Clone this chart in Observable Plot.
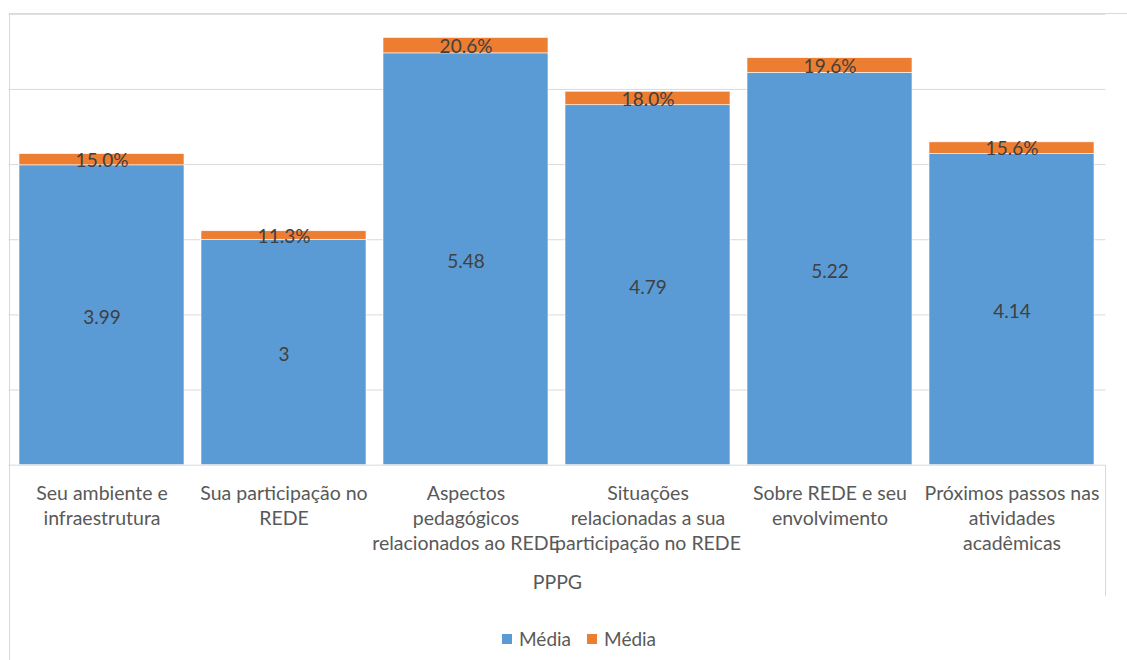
<!DOCTYPE html>
<html><head><meta charset="utf-8">
<script src="https://cdn.jsdelivr.net/npm/d3@7"></script>
<script src="https://cdn.jsdelivr.net/npm/@observablehq/plot@0.6"></script>
<style>
body{margin:0;background:#fff;font-family:Lato,"Open Sans",sans-serif;}
#wrap{position:relative;width:1127px;height:660px;overflow:hidden;}
.line{position:absolute;background:#D9D9D9;}
#legend{position:absolute;left:502px;top:627px;display:flex;align-items:center;font-size:19px;color:#595959;}
#legend span.sw{display:inline-block;width:10px;height:10px;margin-right:7px;}
#legend span.lab{margin-right:16px;}
</style></head>
<body><div id="wrap"><div id="chart"></div></div>
<script>
const categories = ["Seu ambiente e infraestrutura","Sua participação no REDE","Aspectos pedagógicos relacionados ao REDE","Situações relacionadas a sua participação no REDE","Sobre REDE e seu envolvimento","Próximos passos nas atividades acadêmicas"];
const categoryLabels = ["Seu ambiente e\ninfraestrutura","Sua participação no\nREDE","Aspectos\npedagógicos\nrelacionados ao REDE","Situações\nrelacionadas a sua\nparticipação no REDE","Sobre REDE e seu\nenvolvimento","Próximos passos nas\natividades\nacadêmicas"];
const mediaValues = [3.99, 3, 5.48, 4.79, 5.22, 4.14];
const pctValues = [0.150, 0.113, 0.206, 0.180, 0.196, 0.156];
const seriesNames = ["Média", "Média"];
const seriesColors = ["#5B9BD5", "#ED7D31"];
const groupLabel = "PPPG";
const gridTicks = [1, 2, 3, 4, 5, 6];

const rows = categories.map((c, i) => ({cat: c, media: mediaValues[i], pct: pctValues[i]}));
const labelOf = new Map(categories.map((c, i) => [c, categoryLabels[i]]));

const FS = 19;
const chart = Plot.plot({
  width: 1127, height: 620,
  marginLeft: 8.5, marginRight: 21.7, marginTop: 13.8, marginBottom: 155.3,
  style: {fontFamily: "Lato, 'Open Sans', sans-serif", background: "transparent"},
  x: {type: "band", domain: categories, paddingInner: 0.093, paddingOuter: 0.0465, axis: null},
  y: {domain: [0, 6], axis: null},
  marks: [
    Plot.gridY({ticks: gridTicks, stroke: "#D9D9D9", strokeOpacity: 1, strokeWidth: 1}),
    Plot.barY(rows, {x: "cat", y1: 0, y2: "media", fill: seriesColors[0], stroke: "#fff", strokeWidth: 0.6}),
    Plot.barY(rows, {x: "cat", y1: "media", y2: d => d.media + d.pct, fill: seriesColors[1], stroke: "#fff", strokeWidth: 0.6}),
    Plot.ruleY([0], {stroke: "#D9D9D9", strokeWidth: 1}),
    Plot.text(rows, {x: "cat", y: d => d.media / 2, dy: 2.5, text: d => String(d.media), fill: "#404040", fontSize: FS}),
    Plot.text(rows, {x: "cat", y: d => d.media + d.pct / 2, dy: 1, text: d => d3.format(".1%")(d.pct), fill: "#404040", fontSize: FS}),
    Plot.axisX({label: null, tickSize: 0, tickPadding: 17, fontSize: 19.5, lineHeight: 1.29, color: "#595959", tickFormat: d => labelOf.get(d)}),
    Plot.text([groupLabel], {frameAnchor: "bottom", dy: 124, text: d => d, fill: "#595959", fontSize: 19.5})
  ]
});
document.getElementById("chart").appendChild(chart);

const wrap = document.getElementById("wrap");
function line(l, t, w, h){const d=document.createElement("div");d.className="line";d.style.left=l+"px";d.style.top=t+"px";d.style.width=w+"px";d.style.height=h+"px";wrap.appendChild(d);}
line(8.5, 13.3, 1127, 1);
line(8.5, 13.3, 1, 660);
line(1105, 464.7, 1, 131);

const leg = document.createElement("div");
leg.id = "legend";
seriesNames.forEach((n, i) => {
  const s = document.createElement("span"); s.className = "sw"; s.style.background = seriesColors[i]; leg.appendChild(s);
  const t = document.createElement("span"); t.className = "lab"; t.textContent = n; leg.appendChild(t);
});
wrap.appendChild(leg);
</script>
</body></html>
